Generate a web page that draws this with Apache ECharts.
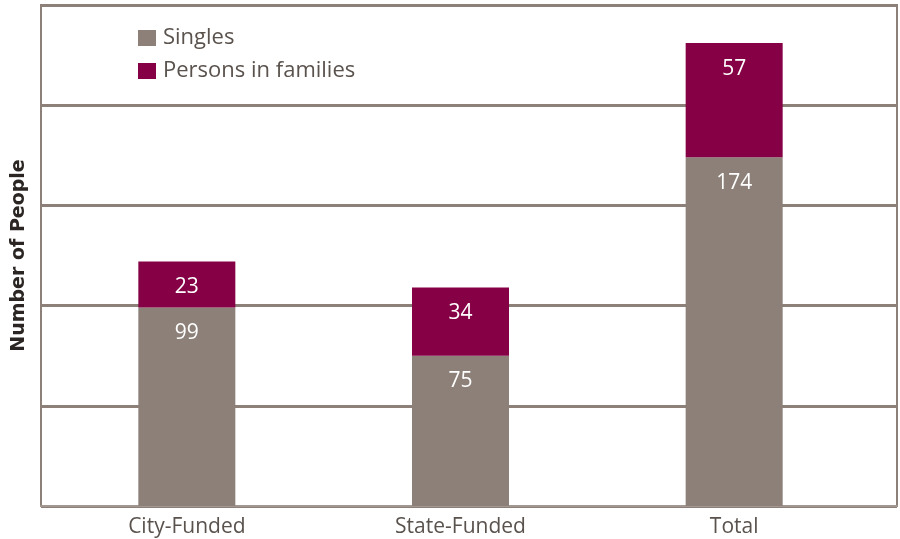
<!DOCTYPE html>
<html>
<head>
<meta charset="utf-8">
<script src="https://cdn.jsdelivr.net/npm/echarts@6/dist/echarts.min.js"></script>
<style>
  html, body { margin: 0; padding: 0; background: #ffffff; }
  #chart { width: 900px; height: 539px; }
</style>
</head>
<body>
<div id="chart"></div>
<script>
// Program categories and head counts
const categories = ['City-Funded', 'State-Funded', 'Total'];
const singles = [99, 75, 174];
const personsInFamilies = [23, 34, 57];
const seriesNames = ['Singles', 'Persons in families'];

const GREY = '#8c8078';
const PLUM = '#850045';
const FONT = '"Open Sans", "Liberation Sans", Arial, sans-serif';

const chart = echarts.init(document.getElementById('chart'), null, { renderer: 'canvas' });

const segmentLabel = {
  show: true,
  position: 'insideTop',
  distance: 15,
  color: '#ffffff',
  fontSize: 21,
  fontFamily: FONT
};

chart.setOption({
  animation: false,
  backgroundColor: '#ffffff',
  grid: [
    // framed plot area carrying the horizontal rules
    { left: 41, right: 3, top: 5, bottom: 33, show: true, borderColor: GREY, borderWidth: 2, backgroundColor: 'transparent' },
    // inner band where the bars sit
    { left: 50, right: 29, top: 5, bottom: 33 }
  ],
  legend: {
    orient: 'vertical',
    left: 133, top: 22,
    itemWidth: 18, itemHeight: 16,
    itemGap: 11,
    icon: 'rect',
    textStyle: { color: '#5a524d', fontSize: 22, fontFamily: FONT, padding: [0, 0, 0, 2] },
    data: seriesNames
  },
  xAxis: [
    {
      gridIndex: 0,
      type: 'category',
      data: categories,
      axisLine: { show: true, lineStyle: { color: '#a39891', width: 2 } },
      axisTick: { show: false },
      axisLabel: { show: false },
      splitLine: { show: false }
    },
    {
      gridIndex: 1,
      type: 'category',
      data: categories,
      axisLine: { show: false },
      axisTick: { show: false },
      axisLabel: { color: '#5a524d', fontSize: 21, fontFamily: FONT, margin: 11 }
    }
  ],
  yAxis: [
    {
      gridIndex: 0,
      type: 'value',
      min: 0, max: 250, interval: 50,
      name: 'Number of People',
      nameLocation: 'middle',
      nameGap: 12,
      nameRotate: 90,
      nameTextStyle: { color: '#2b2623', fontSize: 19, fontWeight: 'bold', fontFamily: '"DejaVu Sans", sans-serif' },
      axisLabel: { show: false },
      axisTick: { show: false },
      axisLine: { show: false },
      splitLine: { show: true, lineStyle: { color: GREY, width: 3 } }
    },
    {
      gridIndex: 1,
      type: 'value',
      min: 0, max: 250, interval: 50,
      axisLabel: { show: false },
      axisTick: { show: false },
      axisLine: { show: false },
      splitLine: { show: false }
    }
  ],
  series: [
    {
      name: seriesNames[0],
      type: 'bar',
      xAxisIndex: 1, yAxisIndex: 1,
      stack: 'people',
      barWidth: 97,
      itemStyle: { color: GREY },
      label: segmentLabel,
      data: singles
    },
    {
      name: seriesNames[1],
      type: 'bar',
      xAxisIndex: 1, yAxisIndex: 1,
      stack: 'people',
      barWidth: 97,
      itemStyle: { color: PLUM },
      label: segmentLabel,
      data: personsInFamilies
    }
  ]
});
</script>
</body>
</html>
